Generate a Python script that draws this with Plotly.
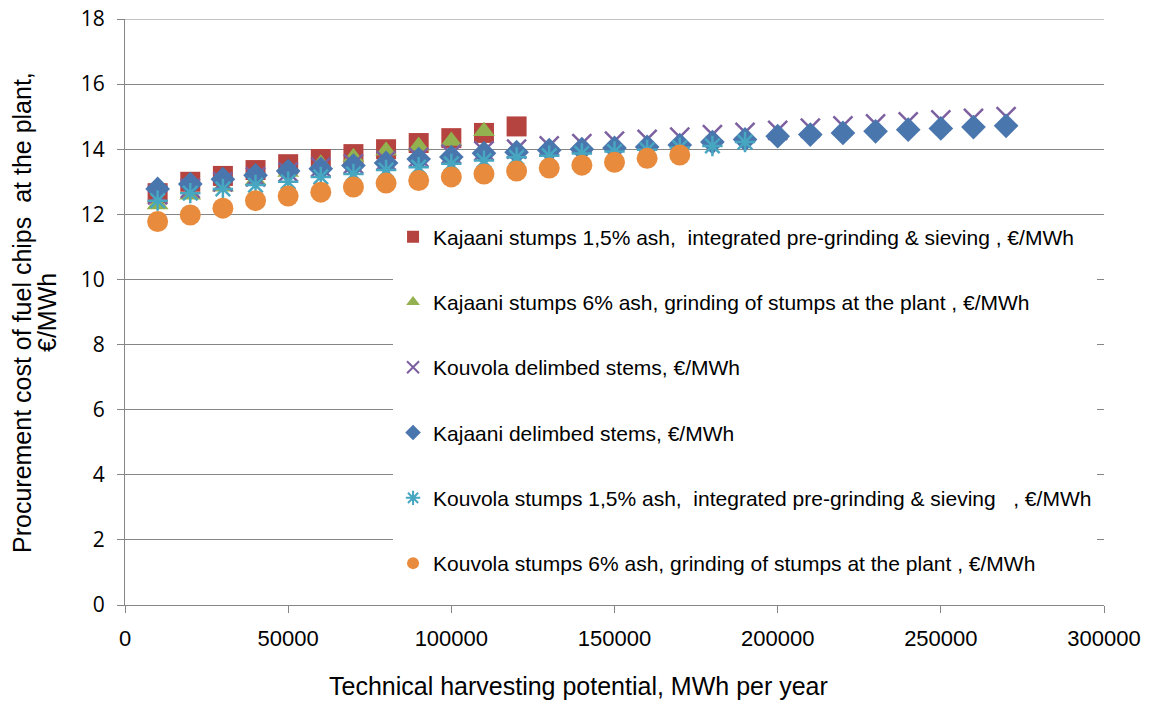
import plotly.graph_objects as go

x_vals = [10000 * i for i in range(1, 28)]

kaj_stumps15 = [12.65, 13.0, 13.18, 13.36, 13.54, 13.7, 13.85, 14.0, 14.19, 14.34, 14.5, 14.7]
kaj_stumps6 = [12.3, 12.6, 12.85, 13.05, 13.3, 13.55, 13.75, 13.95, 14.1, 14.25, 14.55]
kou_delimbed = [12.6, 12.8, 13.0, 13.15, 13.3, 13.45, 13.55, 13.65, 13.75, 13.85, 13.95, 14.0,
                14.1, 14.17, 14.25, 14.3, 14.37, 14.45, 14.52, 14.58, 14.65, 14.72, 14.78,
                14.84, 14.9, 14.95, 15.0]
kaj_delimbed = [12.78, 12.93, 13.08, 13.2, 13.33, 13.4, 13.5, 13.58, 13.7, 13.76, 13.88, 13.91,
                13.97, 14.0, 14.04, 14.07, 14.13, 14.22, 14.3, 14.4, 14.45, 14.5, 14.55,
                14.6, 14.64, 14.68, 14.72]
kou_stumps15 = [12.42, 12.65, 12.78, 12.9, 13.0, 13.15, 13.24, 13.36, 13.45, 13.55, 13.65,
                13.75, 13.8, 13.87, 13.93, 13.98, 14.05, 14.1, 14.22]
kou_stumps6 = [11.78, 11.98, 12.19, 12.42, 12.56, 12.68, 12.84, 12.96, 13.04, 13.15, 13.24,
               13.33, 13.42, 13.51, 13.6, 13.72, 13.82]

names = [
    "Kajaani stumps 1,5% ash,  integrated pre-grinding & sieving , €/MWh",
    "Kajaani stumps 6% ash, grinding of stumps at the plant , €/MWh",
    "Kouvola delimbed stems, €/MWh",
    "Kajaani delimbed stems, €/MWh",
    "Kouvola stumps 1,5% ash,  integrated pre-grinding & sieving   , €/MWh",
    "Kouvola stumps 6% ash, grinding of stumps at the plant , €/MWh",
]
series = [kaj_stumps15, kaj_stumps6, kou_delimbed, kaj_delimbed, kou_stumps15, kou_stumps6]

styles = [
    dict(symbol="square", size=20, color="#B5433F"),
    dict(symbol="triangle-up", size=19, color="#93B14E"),
    dict(symbol="x-thin-open", size=19, color="#7D60A0", line=dict(color="#7D60A0", width=2.5)),
    dict(symbol="diamond", size=19, color="#4A76AE"),
    dict(symbol="asterisk-open", size=17, color="#47A6C0", line=dict(color="#47A6C0", width=2.5)),
    dict(symbol="circle", size=21, color="#E88B3D"),
]

fig = go.Figure()
for i, (nm, ys, st) in enumerate(zip(names, series, styles)):
    fig.add_trace(go.Scatter(
        x=x_vals[:len(ys)], y=ys, mode="markers", name=nm,
        marker=st, legendgroup=f"g{i}",
    ))

axis_color = "#868686"
y_max = 18
fig.update_layout(
    width=1151, height=693,
    paper_bgcolor="white", plot_bgcolor="white",
    margin=dict(l=117, r=55, t=11, b=96),
    font=dict(family="Liberation Sans, Arial, sans-serif", color="#000000"),
    showlegend=True,
    legend=dict(
        x=0.2738, y=0.663, xanchor="left", yanchor="top",
        bgcolor="white", borderwidth=0,
        font=dict(size=21, family="Liberation Sans, Arial, sans-serif"),
        tracegroupgap=35, itemsizing="constant",
    ),
    xaxis=dict(
        range=[0, 300000], dtick=50000, tick0=0, tickformat="d",
        showgrid=False, zeroline=False, automargin=False,
        showline=True, linecolor=axis_color, linewidth=1,
        ticks="outside", ticklen=7, tickcolor=axis_color,
        tickfont=dict(size=22, family="Liberation Sans, Arial, sans-serif"),
        ticklabelstandoff=7, ticklabeloverflow="allow",
    ),
    yaxis=dict(
        range=[0, y_max], dtick=2, tick0=0, automargin=False,
        showgrid=True, gridcolor=axis_color, gridwidth=1, zeroline=False,
        showline=True, linecolor=axis_color, linewidth=1,
        ticks="outside", ticklen=7, tickcolor=axis_color,
        tickfont=dict(size=21, family="Open Sans, sans-serif"),
        ticklabelstandoff=8, ticklabeloverflow="allow",
    ),
    shapes=[
        dict(type="line", xref="paper", yref="y", x0=0, x1=1, y0=y_max, y1=y_max,
             line=dict(color=axis_color, width=1), layer="below"),
    ],
    annotations=[
        dict(text="Technical harvesting potential, MWh per year", xref="paper", yref="paper",
             x=(578 - 125) / 979, y=0, yshift=-81, xanchor="center", yanchor="middle",
             showarrow=False, font=dict(size=25)),
        dict(text="Procurement cost of fuel chips  at the plant,", xref="paper", yref="paper",
             x=0, xshift=-(125 - 22), y=(605 - 313) / 586, xanchor="center", yanchor="middle",
             textangle=-90, showarrow=False, font=dict(size=25)),
        dict(text="€/MWh", xref="paper", yref="paper",
             x=0, xshift=-(125 - 47), y=(605 - 313) / 586, xanchor="center", yanchor="middle",
             textangle=-90, showarrow=False, font=dict(size=25)),
    ],
)

fig.write_html("out.html")
